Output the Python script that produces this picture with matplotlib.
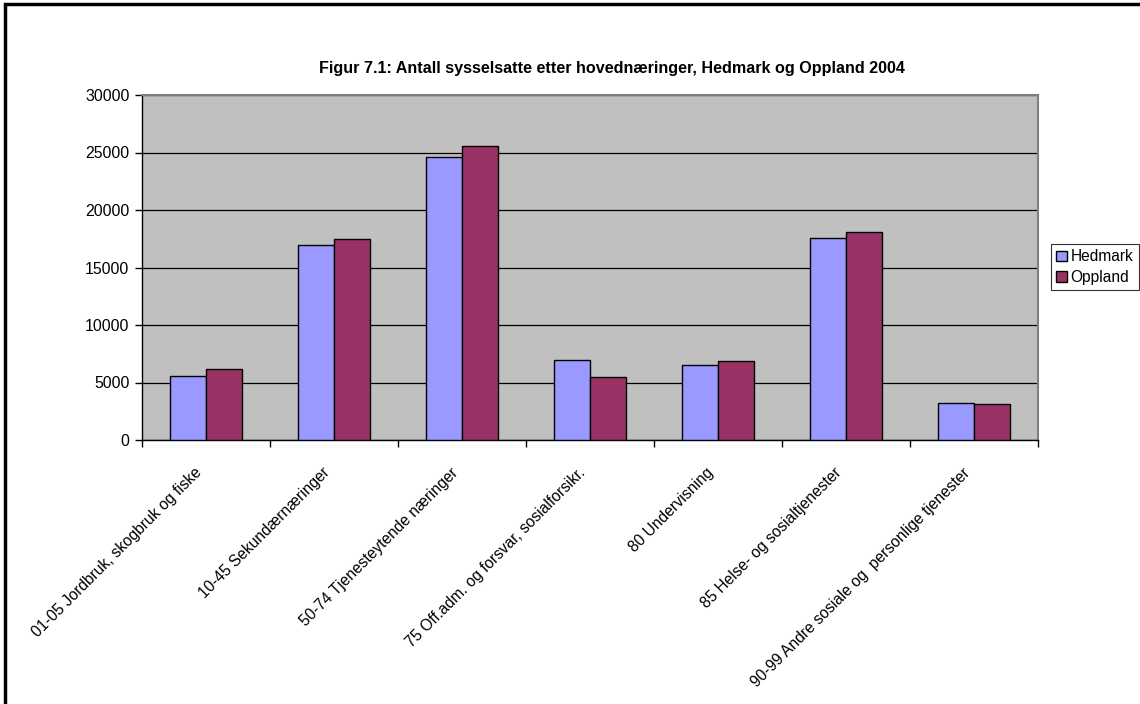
import matplotlib
matplotlib.use("Agg")
import matplotlib.pyplot as plt
import matplotlib.transforms as mtransforms
from matplotlib.patches import Rectangle, Patch
import numpy as np

plt.rcParams['font.family'] = ['Liberation Sans', 'DejaVu Sans']

categories = [
    "01-05 Jordbruk, skogbruk og fiske",
    "10-45 Sekundærnæringer",
    "50-74 Tjenesteytende næringer",
    "75 Off.adm. og forsvar, sosialforsikr.",
    "80 Undervisning",
    "85 Helse- og sosialtjenester",
    "90-99 Andre sosiale og  personlige tjenester",
]
hedmark = [5600, 17000, 24600, 7000, 6500, 17550, 3200]
oppland = [6150, 17500, 25550, 5450, 6850, 18100, 3150]
y_ticks = [0, 5000, 10000, 15000, 20000, 25000, 30000]
title = "Figur 7.1: Antall sysselsatte etter hovednæringer, Hedmark og Oppland 2004"

c_hed = "#9999FF"
c_opp = "#993366"

fig = plt.figure(figsize=(11.4, 7.04), dpi=100)
fig.patch.set_facecolor("white")
ax = fig.add_axes([142 / 1140, 1 - 440 / 704, 896 / 1140, 345 / 704])
ax.set_facecolor("#C0C0C0")

x = np.arange(len(categories))
w = 0.285
ax.bar(x - w / 2, hedmark, w, color=c_hed, edgecolor="black", linewidth=1.0, zorder=3)
ax.bar(x + w / 2, oppland, w, color=c_opp, edgecolor="black", linewidth=1.0, zorder=3)

ax.set_xlim(-0.5, len(categories) - 0.5)
ax.set_ylim(0, 30000)
ax.set_yticks(y_ticks)
ax.set_yticklabels([str(v) for v in y_ticks], fontsize=11.4)
ax.yaxis.grid(True, color="black", linewidth=0.9, zorder=1)
ax.set_axisbelow(True)

# category ticks sit at group boundaries
ax.set_xticks(np.arange(len(categories) + 1) - 0.5)
ax.set_xticklabels([])
ax.tick_params(axis="x", which="major", length=5, width=1, direction="out")
ax.tick_params(axis="y", length=5, width=1, direction="out", pad=4)

# slanted category labels, right end tucked under each group
label_offset = mtransforms.ScaledTranslation(-0.12, -0.25, fig.dpi_scale_trans)
for xi, name in zip(x, categories):
    ax.text(xi, 0, name, transform=ax.get_xaxis_transform() + label_offset,
            rotation=45, rotation_mode="anchor", ha="right", va="top",
            fontsize=11.2)

for s in ("left", "bottom"):
    ax.spines[s].set_color("black")
    ax.spines[s].set_linewidth(1.0)
for s in ("top", "right"):
    ax.spines[s].set_color("#808080")
    ax.spines[s].set_linewidth(1.5)

fig.text(612 / 1140, 1 - 68 / 704, title, ha="center", va="center",
         fontsize=11.6, fontweight="bold")

handles = [Patch(facecolor=c_hed, edgecolor="black", label="Hedmark"),
           Patch(facecolor=c_opp, edgecolor="black", label="Oppland")]
leg = fig.legend(handles=handles, loc="upper left",
                 bbox_to_anchor=(1051 / 1140, 1 - 244 / 704),
                 fontsize=11.2, frameon=True, fancybox=False, edgecolor="black",
                 handlelength=0.65, handleheight=0.65, handletextpad=0.25,
                 borderpad=0.35, labelspacing=0.35, borderaxespad=0)
leg.get_frame().set_linewidth(0.8)

# outer frame of the chart area
fig.patches.append(Rectangle((5 / 1140, -0.2), 1.2, 1.2 - 4 / 704,
                             transform=fig.transFigure, fill=False,
                             edgecolor="black", linewidth=2.5))

fig.savefig("out.png", dpi=100)
